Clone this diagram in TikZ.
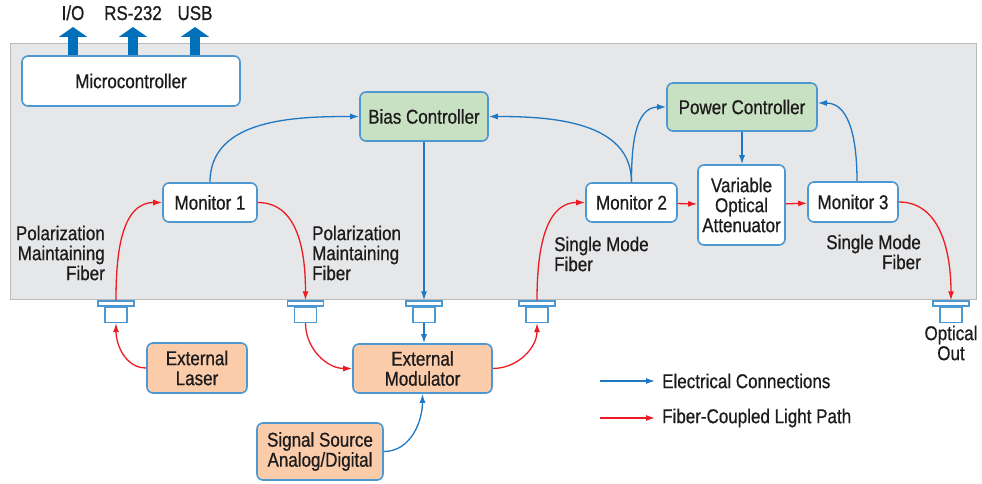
\documentclass[tikz,border=0pt]{standalone}
\usepackage{fontspec}
\setmainfont{Liberation Sans}[FakeStretch = 0.85, FakeBold = 0.7]
\usepackage{xcolor}
\usetikzlibrary{arrows.meta,positioning,calc}
\definecolor{ink}{RGB}{30,27,28}
\definecolor{lineblue}{RGB}{30,120,195}
\definecolor{edgeblue}{RGB}{78,152,210}
\definecolor{bigblue}{RGB}{0,112,187}
\definecolor{fibred}{RGB}{237,28,36}
\definecolor{ctrlgreen}{RGB}{200,225,195}
\definecolor{extorange}{RGB}{250,204,170}
\definecolor{panelgray}{RGB}{230,231,232}
\definecolor{panelline}{RGB}{185,186,188}

\begin{document}
\begin{tikzpicture}[x = 1pt, y = 1pt,
  every node/.style = {font = \fontsize{20}{20}\selectfont, text = ink},
  box/.style = {draw = edgeblue, line width = 1.6pt, rounded corners = 6pt, fill = white, align = center, inner sep = 2pt},
  ctrl/.style = {box, fill = ctrlgreen},
  ext/.style = {box, fill = extorange},
  flange/.style = {draw = edgeblue, line width = 1.4pt, fill = white, minimum width = 36pt, minimum height = 5pt, inner sep = 0pt},
  port/.style = {draw = edgeblue, line width = 1.4pt, fill = white, minimum width = 22pt, minimum height = 15pt, inner sep = 0pt},
  lbl/.style = {inner sep = 0pt},
  elec/.style = {->, line width = 1.3pt, lineblue},
  fiber/.style = {->, line width = 1.3pt, fibred},
  bigarrow/.style = {line width = 10pt, bigblue, -{Triangle[length = 10pt, width = 28pt]}},
  >={Latex[length = 9pt, width = 6pt]}]
\useasboundingbox (0,0) rectangle (982,484);
\draw[draw = panelline, fill = panelgray, line width = 1pt] (10,440) rectangle (976,184);

\node[box, minimum width = 218pt, minimum height = 50pt] (micro) at (131,403) {Microcontroller};
\node[ctrl, minimum width = 128pt, minimum height = 49pt] (bias) at (424,367.5) {Bias Controller};
\node[ctrl, minimum width = 150pt, minimum height = 48pt] (power) at (742,377) {Power Controller};
\node[box, minimum width = 94pt, minimum height = 39pt] (mon1) at (210,281.5) {Monitor 1};
\node[box, minimum width = 91pt, minimum height = 39pt] (mon2) at (631.5,281.5) {Monitor 2};
\node[box, minimum width = 87pt, minimum height = 80pt] (voa) at (741.5,279) {Variable\\Optical\\Attenuator};
\node[box, minimum width = 90pt, minimum height = 40pt] (mon3) at (853,282) {Monitor 3};
\node[ext, minimum width = 100pt, minimum height = 50pt] (laser) at (197,116) {External\\Laser};
\node[ext, minimum width = 139pt, minimum height = 49pt] (mod) at (422.5,115.5) {External\\Modulator};
\node[ext, minimum width = 126pt, minimum height = 57pt] (source) at (320,32.5) {Signal Source\\Analog/Digital};

% fiber ports on the bottom edge
\node[flange] (f1) at (116,180.5) {};
\node[port, anchor = north] (p1) at (f1.south) {};
\node[flange] (f2) at (305.5,180.5) {};
\node[port, anchor = north] (p2) at (f2.south) {};
\node[flange] (f3) at (424,180.5) {};
\node[port, anchor = north] (p3) at (f3.south) {};
\node[flange] (f4) at (537,180.5) {};
\node[port, anchor = north] (p4) at (f4.south) {};
\node[flange] (f5) at (951,180.5) {};
\node[port, anchor = north] (p5) at (f5.south) {};

% labels
\node[lbl, anchor = base] (io) at (73,464) {I/O};
\node[lbl, anchor = base] (rs) at (133,464) {RS-232};
\node[lbl, anchor = base] (usb) at (195,464) {USB};
\node[lbl, align = right, anchor = east] (pmf1) at (105,231) {Polarization\\Maintaining\\Fiber};
\node[lbl, align = left, anchor = west] (pmf2) at (312,231) {Polarization\\Maintaining\\Fiber};
\node[lbl, align = left, anchor = west] (smf1) at (554,230) {Single Mode\\Fiber};
\node[lbl, align = right, anchor = east] (smf2) at (921,232) {Single Mode\\Fiber};
\node[lbl, align = center] (out) at (951,141) {Optical\\Out};

\draw[bigarrow] (micro.north -| io) -- (io.base) [shorten >= 7pt];
\draw[bigarrow] (micro.north -| rs) -- (rs.base) [shorten >= 7pt];
\draw[bigarrow] (micro.north -| usb) -- (usb.base) [shorten >= 7pt];

% electrical
\draw[elec] (mon1.north) to[out = 90, in = 180] (bias.west);
\draw[elec] (mon2.north) to[out = 90, in = 0] (bias.east);
\draw[elec] (mon2.north) to[out = 90, in = 180] (power.west);
\draw[elec] (power.south) -- (power.south |- voa.north);
\draw[elec] ([xshift = 4pt]mon3.north) to[out = 90, in = 0] ([yshift = 4pt]power.east);
\draw[elec] (bias.south) -- (f3.north);
\draw[elec] (p3.south) -- (p3.south |- mod.north);
\draw[elec] (source.east) to[out = 0, in = -90] (mod.south);

% light path
\draw[fiber] (laser.west) to[out = 180, in = -90] (p1.south);
\draw[fiber] (f1.north) to[out = 90, in = 180] (mon1.west);
\draw[fiber] (mon1.east) to[out = 0, in = 90] (f2.north);
\draw[fiber] (p2.south) to[out = -90, in = 180] (mod.west);
\draw[fiber] (mod.east) to[out = 0, in = -90] (p4.south);
\draw[fiber] (f4.north) to[out = 90, in = 180] (mon2.west);
\draw[fiber] (mon2) -- (voa);
\draw[fiber] (voa) -- (mon3);
\draw[fiber] (mon3.east) to[out = 0, in = 90] (f5.north);

% legend
\coordinate (e0) at (600,103);
\node[lbl, anchor = west] (elegend) at (662,103) {Electrical Connections};
\draw[elec] (e0) -- (elegend.west) [shorten >= 7pt];
\coordinate (l0) at (600,66);
\node[lbl, anchor = west] (flegend) at (662,66) {Fiber-Coupled Light Path};
\draw[fiber] (l0) -- (flegend.west) [shorten >= 7pt];
\end{tikzpicture}
\end{document}
